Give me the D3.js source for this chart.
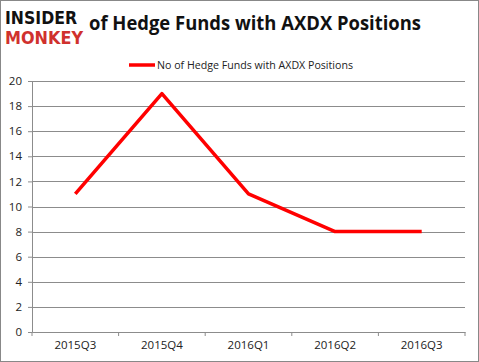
<!DOCTYPE html>
<html>
<head>
<meta charset="utf-8">
<script src="https://cdn.jsdelivr.net/npm/d3@7"></script>
<style>
  body { margin: 0; background: #fff; }
  svg { display: block; font-family: "Open Sans", sans-serif; }
</style>
</head>
<body>
<div id="chart"></div>
<script>
const quarters = ['2015Q3', '2015Q4', '2016Q1', '2016Q2', '2016Q3'];
const hedgeFunds = [11, 19, 11, 8, 8];
const yTicks = [0, 2, 4, 6, 8, 10, 12, 14, 16, 18, 20];
const seriesName = 'No of Hedge Funds with AXDX Positions';

const W = 479, H = 362;
const margin = { top: 81, right: 14, bottom: 30, left: 32 };
const width = W - margin.left - margin.right;
const height = H - margin.top - margin.bottom;

const svg = d3.select('#chart').append('svg')
  .attr('width', W)
  .attr('height', H);

// outer border
svg.append('rect')
  .attr('x', 0.5).attr('y', 0.5)
  .attr('width', W - 1).attr('height', H - 1)
  .attr('fill', '#fff')
  .attr('stroke', '#888');

// logo
svg.append('text')
  .attr('x', 5).attr('y', 24)
  .attr('textLength', 72).attr('lengthAdjust', 'spacingAndGlyphs')
  .style('font-family', '"DejaVu Sans Condensed", sans-serif')
  .style('font-weight', 'bold').style('font-size', '17px')
  .attr('fill', '#111')
  .text('INSIDER');
svg.append('text')
  .attr('x', 5).attr('y', 44)
  .attr('textLength', 78).attr('lengthAdjust', 'spacingAndGlyphs')
  .style('font-family', '"DejaVu Sans Condensed", sans-serif')
  .style('font-weight', 'bold').style('font-size', '17px')
  .attr('fill', '#d0312d')
  .text('MONKEY');

// title
svg.append('text')
  .attr('x', 89).attr('y', 30)
  .attr('textLength', 332).attr('lengthAdjust', 'spacingAndGlyphs')
  .style('font-weight', 'bold').style('font-size', '20px')
  .attr('fill', '#111')
  .text('of Hedge Funds with AXDX Positions');

// legend
const legend = svg.append('g').attr('transform', 'translate(129, 65)');
legend.append('line')
  .attr('x1', 0).attr('x2', 26)
  .attr('stroke', '#ff0000').attr('stroke-width', 3.5);
legend.append('text')
  .attr('x', 28).attr('y', 4)
  .attr('textLength', 196).attr('lengthAdjust', 'spacingAndGlyphs')
  .style('font-size', '11px')
  .attr('fill', '#222')
  .text(seriesName);

const group = svg.append('g')
  .attr('transform', `translate(${margin.left}, ${margin.top})`);

const x = d3.scaleBand().domain(quarters).range([0, width]);
const y = d3.scaleLinear().domain([0, 20]).range([height, 0]);

// grid lines
group.append('g')
  .selectAll('line')
  .data(yTicks.filter(d => d > 0))
  .enter()
  .append('line')
  .attr('x1', 0).attr('x2', width)
  .attr('y1', d => Math.round(y(d)) + 0.5)
  .attr('y2', d => Math.round(y(d)) + 0.5)
  .attr('stroke', '#8c8c8c');

// y axis
const yAxis = group.append('g')
  .call(d3.axisLeft(y).tickValues(yTicks).tickSize(4).tickPadding(6));
yAxis.select('.domain').attr('stroke', '#8c8c8c');
yAxis.selectAll('.tick line').attr('stroke', '#8c8c8c');
yAxis.selectAll('.tick text')
  .style('font-size', '11.5px')
  .style('font-family', '"Open Sans", sans-serif')
  .attr('fill', '#222');

// x axis
const xAxis = group.append('g')
  .attr('transform', `translate(0, ${height})`)
  .call(d3.axisBottom(x).tickSize(0).tickPadding(9));
xAxis.select('.domain').attr('stroke', '#8c8c8c');
xAxis.selectAll('.tick text')
  .style('font-size', '11.5px')
  .style('font-family', '"Open Sans", sans-serif')
  .attr('fill', '#222');

// x tick marks at band boundaries
group.append('g')
  .selectAll('line')
  .data(quarters.concat(['end']))
  .enter()
  .append('line')
  .attr('x1', (d, i) => i * x.step())
  .attr('x2', (d, i) => i * x.step())
  .attr('y1', height).attr('y2', height + 4)
  .attr('stroke', '#8c8c8c');

// line
const line = d3.line()
  .x((d, i) => x(quarters[i]) + x.bandwidth() / 2)
  .y(d => y(d));

group.append('path')
  .datum(hedgeFunds)
  .attr('d', line)
  .attr('fill', 'none')
  .attr('stroke', '#ff0000')
  .attr('stroke-width', 3.5)
  .attr('stroke-linejoin', 'round');
</script>
</body>
</html>
